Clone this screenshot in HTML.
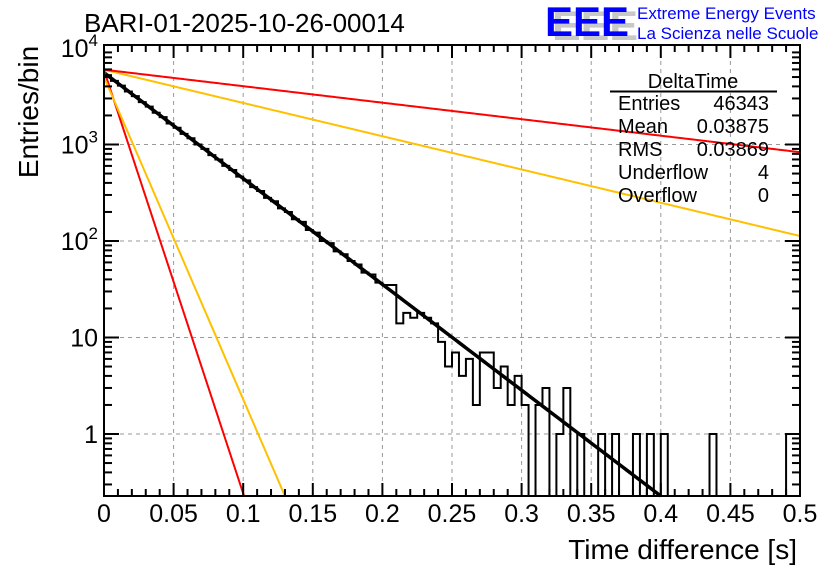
<!DOCTYPE html>
<html><head><meta charset="utf-8"><style>
body{margin:0;background:#fff;}
svg{display:block;font-family:"Liberation Sans",sans-serif;}
</style></head><body>
<svg id="c" width="836" height="572" viewBox="0 0 836 572">
<rect width="836" height="572" fill="#fff"/>
<g id="grid"></g><g id="curves"></g><g id="hist"></g><g id="axes"></g>
<text x="84" y="32" font-size="26">BARI-01-2025-10-26-00014</text>
<g>
<text x="552" y="40" font-size="42" font-weight="bold" fill="#c8c8c8" textLength="86" lengthAdjust="spacingAndGlyphs">EEE</text>
<text x="545" y="36" font-size="42" font-weight="bold" fill="#0000ff" textLength="84" lengthAdjust="spacingAndGlyphs">EEE</text>
<text x="637" y="19" font-size="17" fill="#0000ff">Extreme Energy Events</text>
<text x="637" y="39" font-size="17" fill="#0000ff">La Scienza nelle Scuole</text>
</g>
<g font-size="20">
<text x="693" y="88" text-anchor="middle">DeltaTime</text>
<line x1="610" y1="91.5" x2="777" y2="91.5" stroke="#000" stroke-width="2"/>
<text x="618" y="110">Entries</text><text x="769" y="110" text-anchor="end">46343</text>
<text x="618" y="133">Mean</text><text x="769" y="133" text-anchor="end">0.03875</text>
<text x="618" y="156">RMS</text><text x="769" y="156" text-anchor="end">0.03869</text>
<text x="618" y="179">Underflow</text><text x="769" y="179" text-anchor="end">4</text>
<text x="618" y="202">Overflow</text><text x="769" y="202" text-anchor="end">0</text>
</g>
<text x="797" y="559" font-size="28" text-anchor="end">Time difference [s]</text>
<text transform="translate(38,112) rotate(-90)" font-size="28" text-anchor="middle">Entries/bin</text>
</svg>
<script>
const binWidth = 0.005;
const counts = [5230,4570,4080,3540,3170,2750,2470,2130,1920,1650,1490,1290,1160,1000,900,775,700,600,545,465,425,362,330,280,258,218,200,168,158,130,122,100,95,78,73,62,57,47,45,37,
35,35,14,18,16,18,16,14,9,5,7,4,6,2,7,7,3,5,2,4,2,0,2,3,0,1,3,0,1,0,0,1,0,1,0,0,1,0,1,0,1,0,0,0,0,0,0,1,0,0,0,0,0,0,0,0,0,0,1,1];
const fitNames = ['fit-main','fit-red-steep','fit-orange-steep','fit-orange-shallow','fit-red-shallow'];
const fitAmp = [5550,5900,5000,5960,5960];
const fitTau = [0.0396,0.0099,0.013,0.126,0.254];
const fitColor = ['#000','#ff0000','#ffc000','#ffc000','#ff0000'];
const xTicks = [0,0.05,0.1,0.15,0.2,0.25,0.3,0.35,0.4,0.45,0.5];
const xTickLabels = ['0','0.05','0.1','0.15','0.2','0.25','0.3','0.35','0.4','0.45','0.5'];
const yDecades = [1,10,100,1000,10000];

const NS='http://www.w3.org/2000/svg';
const L=104,R=800,T=45,B=496;
const Y1=434, DEC=96.5;
const X=v=>L+(R-L)*v/0.5;
const Y=v=>Y1-Math.log10(v)*DEC;
const yMin=Math.pow(10,-(B-Y1)/DEC);
function mk(tag,attrs,parent){const e=document.createElementNS(NS,tag);for(const k in attrs)e.setAttribute(k,attrs[k]);parent.appendChild(e);return e;}
const grid=document.getElementById('grid'),axes=document.getElementById('axes'),curves=document.getElementById('curves'),hist=document.getElementById('hist');

xTicks.forEach((t,i)=>{
  if(i>0&&i<xTicks.length-1){const g=mk('line',{x1:X(t),x2:X(t),y1:T,y2:B,stroke:'#999','stroke-dasharray':'4,4','stroke-width':1},grid);
  
  }
  const lb=mk('text',{x:X(t),y:522,'font-size':25,'text-anchor':'middle'},axes);lb.textContent=xTickLabels[i];
  
  
});
for(let k=0;k<=50;k++){const x=X(k*0.01);const len=(k%5==0)?13:7;
  mk('line',{x1:x,x2:x,y1:B,y2:B-len,stroke:'#000','stroke-width':2},axes);
  mk('line',{x1:x,x2:x,y1:T,y2:T+len,stroke:'#000','stroke-width':2},axes);}
yDecades.forEach((d,i)=>{
  const y=Y(d);
  if(d<10000){const g=mk('line',{x1:L,x2:R,y1:y,y2:y,stroke:'#999','stroke-dasharray':'4,4','stroke-width':1},grid);
  
  }
  const lb=mk('text',{x:98,y:y+9,'font-size':25,'text-anchor':'end'},axes);
  
  
  if(d>=100){lb.setAttribute('x',98);lb.textContent='10';const s=mk('tspan',{dy:-11,'font-size':17},lb);s.textContent=String(i);}
  else lb.textContent=String(d);
});
for(let e=-1;e<4;e++)for(let m=1;m<10;m++){const v=m*Math.pow(10,e);if(v<yMin)continue;const y=Y(v);const len=m==1?15:8;
  mk('line',{x1:L,x2:L+len,y1:y,y2:y,stroke:'#000','stroke-width':2},axes);
  mk('line',{x1:R,x2:R-len,y1:y,y2:y,stroke:'#000','stroke-width':2},axes);}
const fr=mk('rect',{x:L,y:T,width:R-L,height:B-T,fill:'none',stroke:'#000','stroke-width':2},axes);



fitNames.forEach((n,i)=>{
  let d='';const N=300;
  for(let k=0;k<=N;k++){const t=0.5*k/N;const v=fitAmp[i]*Math.exp(-t/fitTau[i]);
    if(v<yMin){const tt=fitTau[i]*Math.log(fitAmp[i]/yMin);d+=(d?'L':'M')+X(tt)+','+B;break;}
    d+=(d?'L':'M')+X(t).toFixed(2)+','+Y(v).toFixed(2);}
  const p=mk('path',{d:d,fill:'none',stroke:fitColor[i],'stroke-width':i==0?3.5:2},curves);
  
  
});

let hd='';
counts.forEach((c,i)=>{
  const x0=X(i*binWidth),x1=X((i+1)*binWidth);
  const y=c>0?Math.min(B,Y(c)):B;
  hd+=(i==0?'M'+x0+','+y:'L'+x0+','+y)+'L'+x1+','+y;
});
const hp=mk('path',{d:hd,fill:'none',stroke:'#000','stroke-width':2},hist);


</script>
</body></html>
